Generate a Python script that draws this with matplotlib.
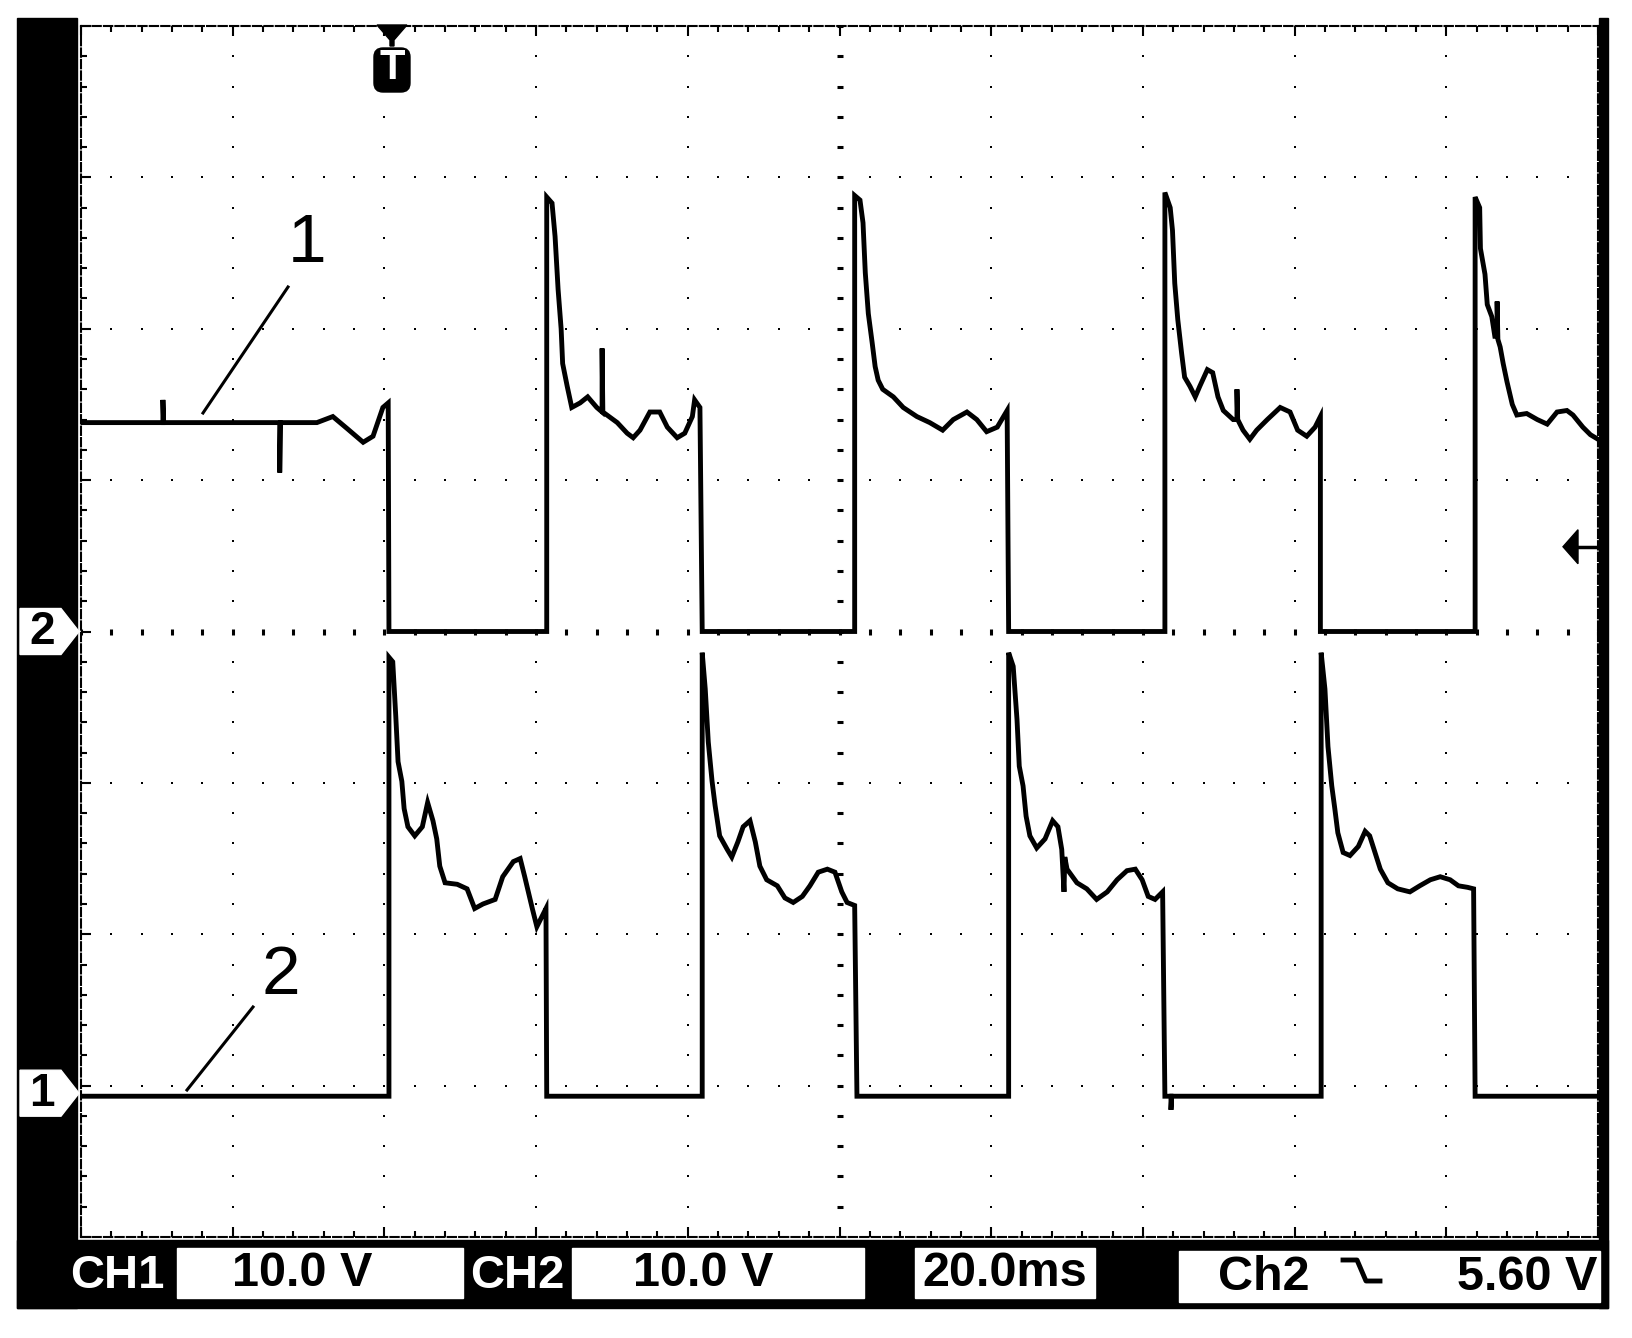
import matplotlib.pyplot as plt
import numpy as np
from matplotlib.patches import Rectangle, Polygon, FancyBboxPatch
from matplotlib.ticker import MultipleLocator

# scope settings
time_scale = 20.0   # ms/div
ch1_scale = 10.0    # V/div
ch2_scale = 10.0    # V/div
ch1_ground = 0.95   # div above screen bottom
ch2_ground = 4.0
trig_time = 41.0    # ms
trig_level = 5.6    # V (ch2)
status_text = ['CH1', '10.0 V', 'CH2', '10.0 V', '20.0ms', 'Ch2', '5.60 V']
curve_labels = ['1', '2']

# curve 1 (upper trace, scope ch2): time ms / volts
t_up = [0, 10.8, 10.8, 10.9, 26.2, 26.2, 26.3, 31.1, 33.2, 35.1, 37.2, 38.5, 39.8, 40.5, 40.6,
        61.4, 61.4, 62.1, 62.5, 62.9, 63.3, 63.5, 64.1, 64.7, 65.8, 66.8, 68.0, 68.7, 68.7, 68.8,
        70.7, 72.0, 72.8, 73.7, 75.0, 76.3, 77.3, 78.6, 79.6, 80.6, 80.9, 81.6, 81.9,
        102.0, 102.0, 102.7, 103.1, 103.4, 103.8, 104.3, 104.7, 105.1, 105.7, 107.1, 108.4, 110.2,
        111.9, 113.6, 115.0, 116.8, 118.1, 119.4, 120.8, 122.1, 122.3,
        142.9, 142.9, 143.6, 143.9, 144.2, 144.6, 145.1, 145.5, 146.2, 146.9, 147.5, 148.5, 149.2,
        149.9, 150.6, 151.9, 152.4, 152.4, 152.5, 153.2, 154.1, 155.0, 156.4, 158.1, 159.4, 160.4,
        161.6, 162.7, 163.4, 163.4,
        183.8, 183.8, 184.4, 184.5, 185.1, 185.4, 186.0, 186.4, 186.7, 186.7, 186.8, 187.1, 187.5,
        188.0, 188.7, 189.3, 190.6, 192.0, 193.3, 194.6, 195.9, 196.7, 198.0, 199.0, 200.0]
v_up = [13.8, 13.8, 15.3, 13.8, 13.8, 10.5, 13.8, 13.8, 14.2, 13.4, 12.5, 12.9, 14.8, 15.1, 0.0,
        0.0, 28.7, 28.3, 26.1, 22.6, 20.0, 17.7, 16.2, 14.8, 15.1, 15.5, 14.8, 14.5, 18.7, 14.5,
        13.8, 13.1, 12.8, 13.3, 14.5, 14.5, 13.5, 12.8, 13.1, 14.2, 15.3, 14.8, 0.0,
        0.0, 28.8, 28.5, 27.0, 23.7, 21.0, 19.1, 17.5, 16.6, 16.0, 15.5, 14.8, 14.2,
        13.8, 13.3, 14.0, 14.5, 14.0, 13.2, 13.5, 14.6, 0.0,
        0.0, 29.0, 28.0, 26.5, 23.0, 20.6, 18.4, 16.8, 16.2, 15.5, 16.2, 17.3, 17.1,
        15.5, 14.6, 14.0, 14.0, 16.0, 14.0, 13.3, 12.7, 13.3, 14.0, 14.8, 14.5, 13.3,
        12.9, 13.5, 14.2, 0.0,
        0.0, 28.7, 28.0, 25.3, 23.6, 21.6, 20.8, 19.5, 19.5, 21.8, 19.3, 18.8, 17.7,
        16.5, 15.0, 14.3, 14.4, 14.0, 13.7, 14.5, 14.6, 14.3, 13.5, 13.0, 12.7]

# curve 2 (lower trace, scope ch1)
t_lo = [0, 40.6, 40.6, 41.1, 41.5, 41.8, 42.3, 42.6, 43.1, 44.0, 45.0, 45.7, 46.4, 46.9, 47.3,
        48.0, 49.6, 50.9, 51.9, 53.0, 54.6, 55.6, 57.0, 57.9, 58.5, 59.5, 60.1, 60.8, 61.3, 61.4,
        81.9, 81.9, 82.3, 82.7, 83.2, 83.6, 84.2, 85.2, 85.8, 86.6, 87.3, 88.2, 88.9, 89.5, 90.4,
        91.8, 92.8, 93.9, 95.1, 96.1, 97.2, 98.4, 99.4, 100.3, 101.0, 102.0, 102.3,
        122.3, 122.3, 122.9, 123.4, 123.7, 124.2, 124.6, 125.1, 126.0, 127.1, 128.1, 128.8, 129.3,
        129.6, 129.7, 130.0, 131.3, 132.6, 133.9, 135.3, 136.6, 137.9, 139.0, 139.9, 140.7, 141.6,
        142.6, 142.9, 143.7, 143.7, 143.8,
        163.5, 163.5, 164.0, 164.4, 164.9, 165.3, 165.7, 166.4, 167.3, 168.4, 169.3, 169.9, 170.6,
        171.3, 172.3, 173.6, 175.2, 176.5, 177.9, 179.2, 180.5, 181.6, 182.8, 183.6, 183.8, 200.0]
v_lo = [-0.2, -0.2, 28.8, 28.5, 24.9, 21.9, 20.6, 18.8, 17.6, 17.0, 17.6, 19.2, 18.0, 16.8, 15.0,
        13.9, 13.8, 13.5, 12.2, 12.5, 12.8, 14.3, 15.3, 15.5, 14.3, 12.2, 11.0, 11.7, 12.2, -0.2,
        -0.2, 29.1, 26.7, 23.2, 20.6, 19.0, 17.0, 16.1, 15.6, 16.6, 17.6, 18.0, 16.6, 15.0, 14.1,
        13.7, 12.9, 12.6, 13.0, 13.7, 14.6, 14.8, 14.6, 13.3, 12.6, 12.4, -0.2,
        -0.2, 29.1, 28.2, 24.7, 21.6, 20.3, 18.3, 17.0, 16.2, 16.8, 18.0, 17.6, 16.1,
        13.3, 15.6, 14.8, 13.9, 13.5, 12.8, 13.3, 14.1, 14.7, 14.8, 14.1, 13.0, 12.8,
        13.3, -0.2, -0.2, -1.1, -0.2,
        -0.2, 29.1, 26.7, 22.9, 20.3, 18.8, 17.2, 15.9, 15.7, 16.3, 17.3, 17.0, 15.9,
        14.8, 13.9, 13.5, 13.3, 13.7, 14.1, 14.3, 14.1, 13.7, 13.6, 13.5, -0.2, -0.2]

W_PX, H_PX = 1632, 1338
GX0, GX1, GY0, GY1 = 81, 1598, 26, 1237
DX = (GX1 - GX0) / 10.0
DY = (GY1 - GY0) / 8.0

fig = plt.figure(figsize=(W_PX / 100, H_PX / 100), dpi=100)

# background frame (pixel coords)
bg = fig.add_axes([0, 0, 1, 1], zorder=-1)
bg.set_xlim(0, W_PX); bg.set_ylim(H_PX, 0); bg.set_axis_off()
bg.add_patch(Rectangle((17, 18), 60, 1290, color='black'))
bg.add_patch(Rectangle((17, 1240), 1591, 68, color='black'))
bg.add_patch(Rectangle((1599, 18), 9, 1290, color='black'))
for x0, y0, w, h in [(177, 1248, 286, 50), (572, 1248, 292, 50), (915, 1248, 180, 50), (1179, 1251, 421, 51)]:
    bg.add_patch(Rectangle((x0, y0), w, h, color='white'))

# screen
ax = fig.add_axes([GX0 / W_PX, 1 - GY1 / H_PX, (GX1 - GX0) / W_PX, (GY1 - GY0) / H_PX])
ax.set_xlim(0, 10 * time_scale)
ax.set_ylim(-ch2_ground * ch2_scale, (8 - ch2_ground) * ch2_scale)
ax.xaxis.set_major_locator(MultipleLocator(time_scale))
ax.xaxis.set_minor_locator(MultipleLocator(time_scale / 5))
ax.yaxis.set_major_locator(MultipleLocator(ch2_scale))
ax.yaxis.set_minor_locator(MultipleLocator(ch2_scale / 5))
ax.tick_params(which='both', direction='in', top=True, right=True, bottom=True, left=True,
               labelbottom=False, labelleft=False, color='black', width=1.5)
ax.tick_params(which='major', length=7)
ax.tick_params(which='minor', length=4)
for sp in ax.spines.values():
    sp.set_linestyle((0, (4, 1.5)))
    sp.set_linewidth(1.5)

# graticule dots
t_min = np.arange(0, 10 * time_scale + 0.01, time_scale / 5)
v_min = np.arange(-ch2_ground * ch2_scale, (8 - ch2_ground) * ch2_scale + 0.01, ch2_scale / 5)
for k in range(1, 10):
    tk = k * time_scale
    if k == 5:
        ax.plot(np.full_like(v_min, tk), v_min, ls='none', marker='_', ms=5, mew=2.2, color='k')
    else:
        ax.plot(np.full_like(v_min, tk), v_min, ls='none', marker='s', ms=1.8, mew=0, color='k')
for j in range(1, 8):
    vj = -ch2_ground * ch2_scale + j * ch2_scale
    if j == 4:
        ax.plot(t_min, np.full_like(t_min, vj), ls='none', marker='|', ms=5, mew=2.2, color='k')
    else:
        ax.plot(t_min, np.full_like(t_min, vj), ls='none', marker='s', ms=1.8, mew=0, color='k')

ax.plot(t_up, v_up, color='black', lw=3.5, solid_joinstyle='miter')

ax1 = ax.twinx()
ax1.set_ylim(-ch1_ground * ch1_scale, (8 - ch1_ground) * ch1_scale)
ax1.set_yticks([])
for sp in ax1.spines.values():
    sp.set_visible(False)
ax1.plot(t_lo, v_lo, color='black', lw=3.5, solid_joinstyle='miter')

# foreground annotations (pixel coords)
fg = fig.add_axes([0, 0, 1, 1], zorder=5)
fg.set_xlim(0, W_PX); fg.set_ylim(H_PX, 0); fg.set_axis_off()

sans = ['Liberation Sans', 'DejaVu Sans']
fg.text(70, 1276, status_text[0], color='white', fontsize=34, fontweight='bold', family=sans, ha='left', va='center')
fg.text(302, 1274, status_text[1], color='black', fontsize=35, fontweight='bold', family=sans, ha='center', va='center')
fg.text(470, 1276, status_text[2], color='white', fontsize=34, fontweight='bold', family=sans, ha='left', va='center')
fg.text(703, 1274, status_text[3], color='black', fontsize=35, fontweight='bold', family=sans, ha='center', va='center')
fg.text(1005, 1274, status_text[4], color='black', fontsize=35, fontweight='bold', family=sans, ha='center', va='center')
fg.text(1264, 1277, status_text[5], color='black', fontsize=35, fontweight='bold', family=sans, ha='center', va='center')
fg.text(1597, 1277, status_text[6], color='black', fontsize=35, fontweight='bold', family=sans, ha='right', va='center')
fg.plot([1343, 1357, 1366, 1380], [1260, 1260, 1281, 1281], color='black', lw=3.5)

# ground markers
for label, gnd in [('2', ch2_ground), ('1', ch1_ground)]:
    yc = GY1 - gnd * DY
    fg.add_patch(Polygon([(20, yc - 23), (61, yc - 23), (79, yc), (61, yc + 23), (20, yc + 23)],
                         closed=True, color='white'))
    fg.text(42, yc + 1, label, fontsize=33, fontweight='bold', family=sans, ha='center', va='center')

# trigger position marker
xt = GX0 + trig_time / time_scale * DX
fg.add_patch(Polygon([(xt - 15, 25), (xt + 15, 25), (xt + 2, 40), (xt + 2, 46), (xt - 2, 46), (xt - 2, 40)],
                     closed=True, color='black'))
fg.add_patch(FancyBboxPatch((xt - 15, 51), 30, 38, boxstyle='round,pad=3,rounding_size=9', color='black'))
fg.text(xt, 68, 'T', color='white', fontsize=30, fontweight='bold', family=sans, ha='center', va='center')

# trigger level marker
yl = GY1 - (ch2_ground + trig_level / ch2_scale) * DY
fg.add_patch(Polygon([(1563, yl), (1578, yl - 17), (1578, yl + 17)], closed=True, color='black'))
fg.plot([1570, 1597], [yl, yl], color='black', lw=2.5)

# curve labels with leader lines
fg.text(307, 244, curve_labels[0], fontsize=50, family=sans, ha='center', va='center')
fg.plot([288, 203], [287, 413], color='black', lw=2.2)
fg.text(281, 976, curve_labels[1], fontsize=50, family=sans, ha='center', va='center')
fg.plot([253, 187], [1007, 1090], color='black', lw=2.2)

fig.savefig('out.png', dpi=100, facecolor='white')
